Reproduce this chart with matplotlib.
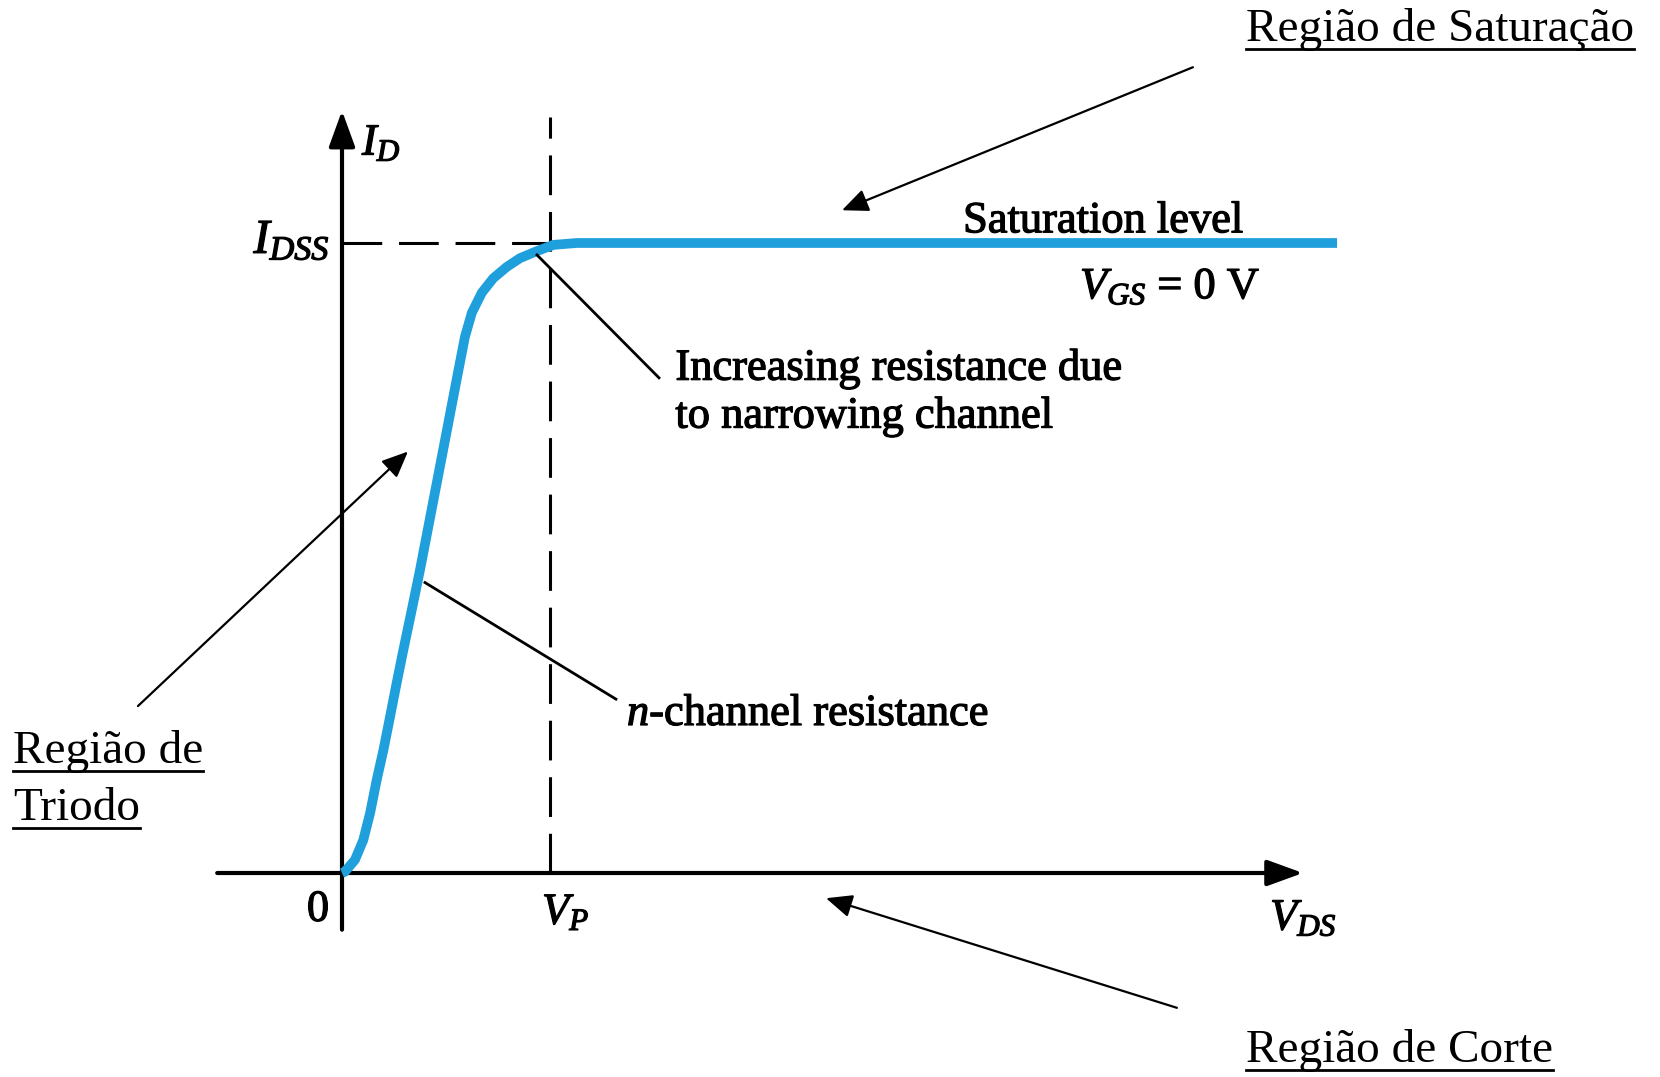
import matplotlib
matplotlib.use("Agg")
import matplotlib.pyplot as plt
import matplotlib.patheffects as pe

# JFET drain characteristic, V_GS = 0 V (normalised: V_DS / V_P, I_D / I_DSS)
vds = [0.0, 0.014, 0.0625, 0.102, 0.135, 0.167, 0.199, 0.231, 0.263, 0.295, 0.335, 0.375,
       0.511, 0.551, 0.591, 0.624, 0.672, 0.727, 0.792, 0.856, 0.936, 1.016, 1.128, 4.784]
id_ = [0.0, 0.002, 0.021, 0.052, 0.095, 0.148, 0.195, 0.248, 0.302, 0.354, 0.417, 0.481,
       0.714, 0.783, 0.851, 0.889, 0.921, 0.944, 0.962, 0.976, 0.987, 0.997, 1.0, 1.0]
VP = 1.0
IDSS = 1.0

curve_color = "#1f9fdc"

plt.rcParams["font.family"] = ["Liberation Serif", "DejaVu Serif"]
plt.rcParams["mathtext.fontset"] = "custom"
plt.rcParams["mathtext.rm"] = "Liberation Serif"
plt.rcParams["mathtext.it"] = "Liberation Serif:italic"
plt.rcParams["mathtext.bf"] = "Liberation Serif:bold"

fig = plt.figure(figsize=(16.6, 10.77), dpi=100)
ax = fig.add_axes([0, 0, 1, 1])
ax.axis("off")
# origin sits at pixel (342, 873); 208 px per V_P, 630 px per I_DSS
ax.set_xlim(-342 / 208, (1660 - 342) / 208)
ax.set_ylim(-204 / 630, (1077 - 204) / 630)

# axes with arrow heads
axis_arrow = dict(arrowstyle="-|>,head_length=1.1,head_width=0.4", lw=3, color="black",
                  mutation_scale=20, shrinkA=0, shrinkB=0)
ax.annotate("", xy=(4.62, 0), xytext=(-0.60, 0), arrowprops=axis_arrow)
ax.annotate("", xy=(0, 1.21), xytext=(0, -0.09), arrowprops=axis_arrow)

# dashed guides at V_P and I_DSS
ax.plot([VP, VP], [0, 1.20], color="black", lw=2.2, dashes=(13, 5.5), zorder=2)
ax.plot([0, VP], [IDSS, IDSS], color="black", lw=2.2, dashes=(13, 5.5), zorder=2)

# characteristic curve
ax.plot(vds, id_, color=curve_color, lw=7, solid_capstyle="butt", solid_joinstyle="round", zorder=3)

# leader lines
ax.plot([0.9375, 1.524], [0.981, 0.786], color="black", lw=2, zorder=4)
ax.plot([0.399, 1.317], [0.461, 0.276], color="black", lw=2, zorder=4)

fs = 32
heavy = [pe.withStroke(linewidth=0.9, foreground="black")]
ax.text(0.096, 1.140, r"$I_D$", fontsize=fs, va="baseline", ha="left", path_effects=heavy)
ax.text(-0.058, 0.984, r"$I_{DSS}$", fontsize=35, va="baseline", ha="right", path_effects=heavy)
ax.text(-0.115, -0.076, "0", fontsize=fs, va="baseline", ha="center", path_effects=heavy)
ax.text(0.962, -0.081, r"$V_P$", fontsize=fs, va="baseline", ha="left", path_effects=heavy)
ax.text(4.462, -0.090, r"$V_{DS}$", fontsize=fs, va="baseline", ha="left", path_effects=heavy)

ax.text(2.986, 1.017, "Saturation level", fontsize=fs, va="baseline", ha="left", path_effects=heavy)
ax.text(3.548, 0.912, r"$V_{GS}$ = 0 V", fontsize=fs, va="baseline", ha="left", path_effects=heavy)
ax.text(1.603, 0.783, "Increasing resistance due", fontsize=fs, va="baseline", ha="left", path_effects=heavy)
ax.text(1.603, 0.707, "to narrowing channel", fontsize=fs, va="baseline", ha="left", path_effects=heavy)
ax.text(1.370, 0.2345, r"$n$-channel resistance", fontsize=fs, va="baseline", ha="left", path_effects=heavy)

# region labels (underlined) with arrows
region_fs = 34
labels = [
    ("Região de Saturação", 4.346, 1.320),
    ("Região de", -1.582, 0.174),
    ("Triodo", -1.582, 0.084),
    ("Região de Corte", 4.346, -0.2995),
]
texts = []
for s, x, y in labels:
    t = ax.text(x, y, s, fontsize=region_fs, va="baseline", ha="left")
    texts.append((t, y))

fig.canvas.draw()
renderer = fig.canvas.get_renderer()
inv = ax.transData.inverted()
for t, y in texts:
    bb = t.get_window_extent(renderer)
    x0, _ = inv.transform((bb.x0, bb.y0))
    x1, _ = inv.transform((bb.x1, bb.y0))
    ax.plot([x0, x1], [y - 8 / 630, y - 8 / 630], color="black", lw=2)

region_arrow = dict(arrowstyle="-|>,head_length=0.8,head_width=0.35", lw=1.6, color="black",
                    mutation_scale=20, shrinkA=0, shrinkB=0)
ax.annotate("", xy=(2.404, 1.052), xytext=(4.091, 1.279), arrowprops=region_arrow)
ax.annotate("", xy=(0.317, 0.669), xytext=(-0.981, 0.265), arrowprops=region_arrow)
ax.annotate("", xy=(2.327, -0.040), xytext=(4.014, -0.214), arrowprops=region_arrow)

fig.savefig("out.png", dpi=100, facecolor="white")
